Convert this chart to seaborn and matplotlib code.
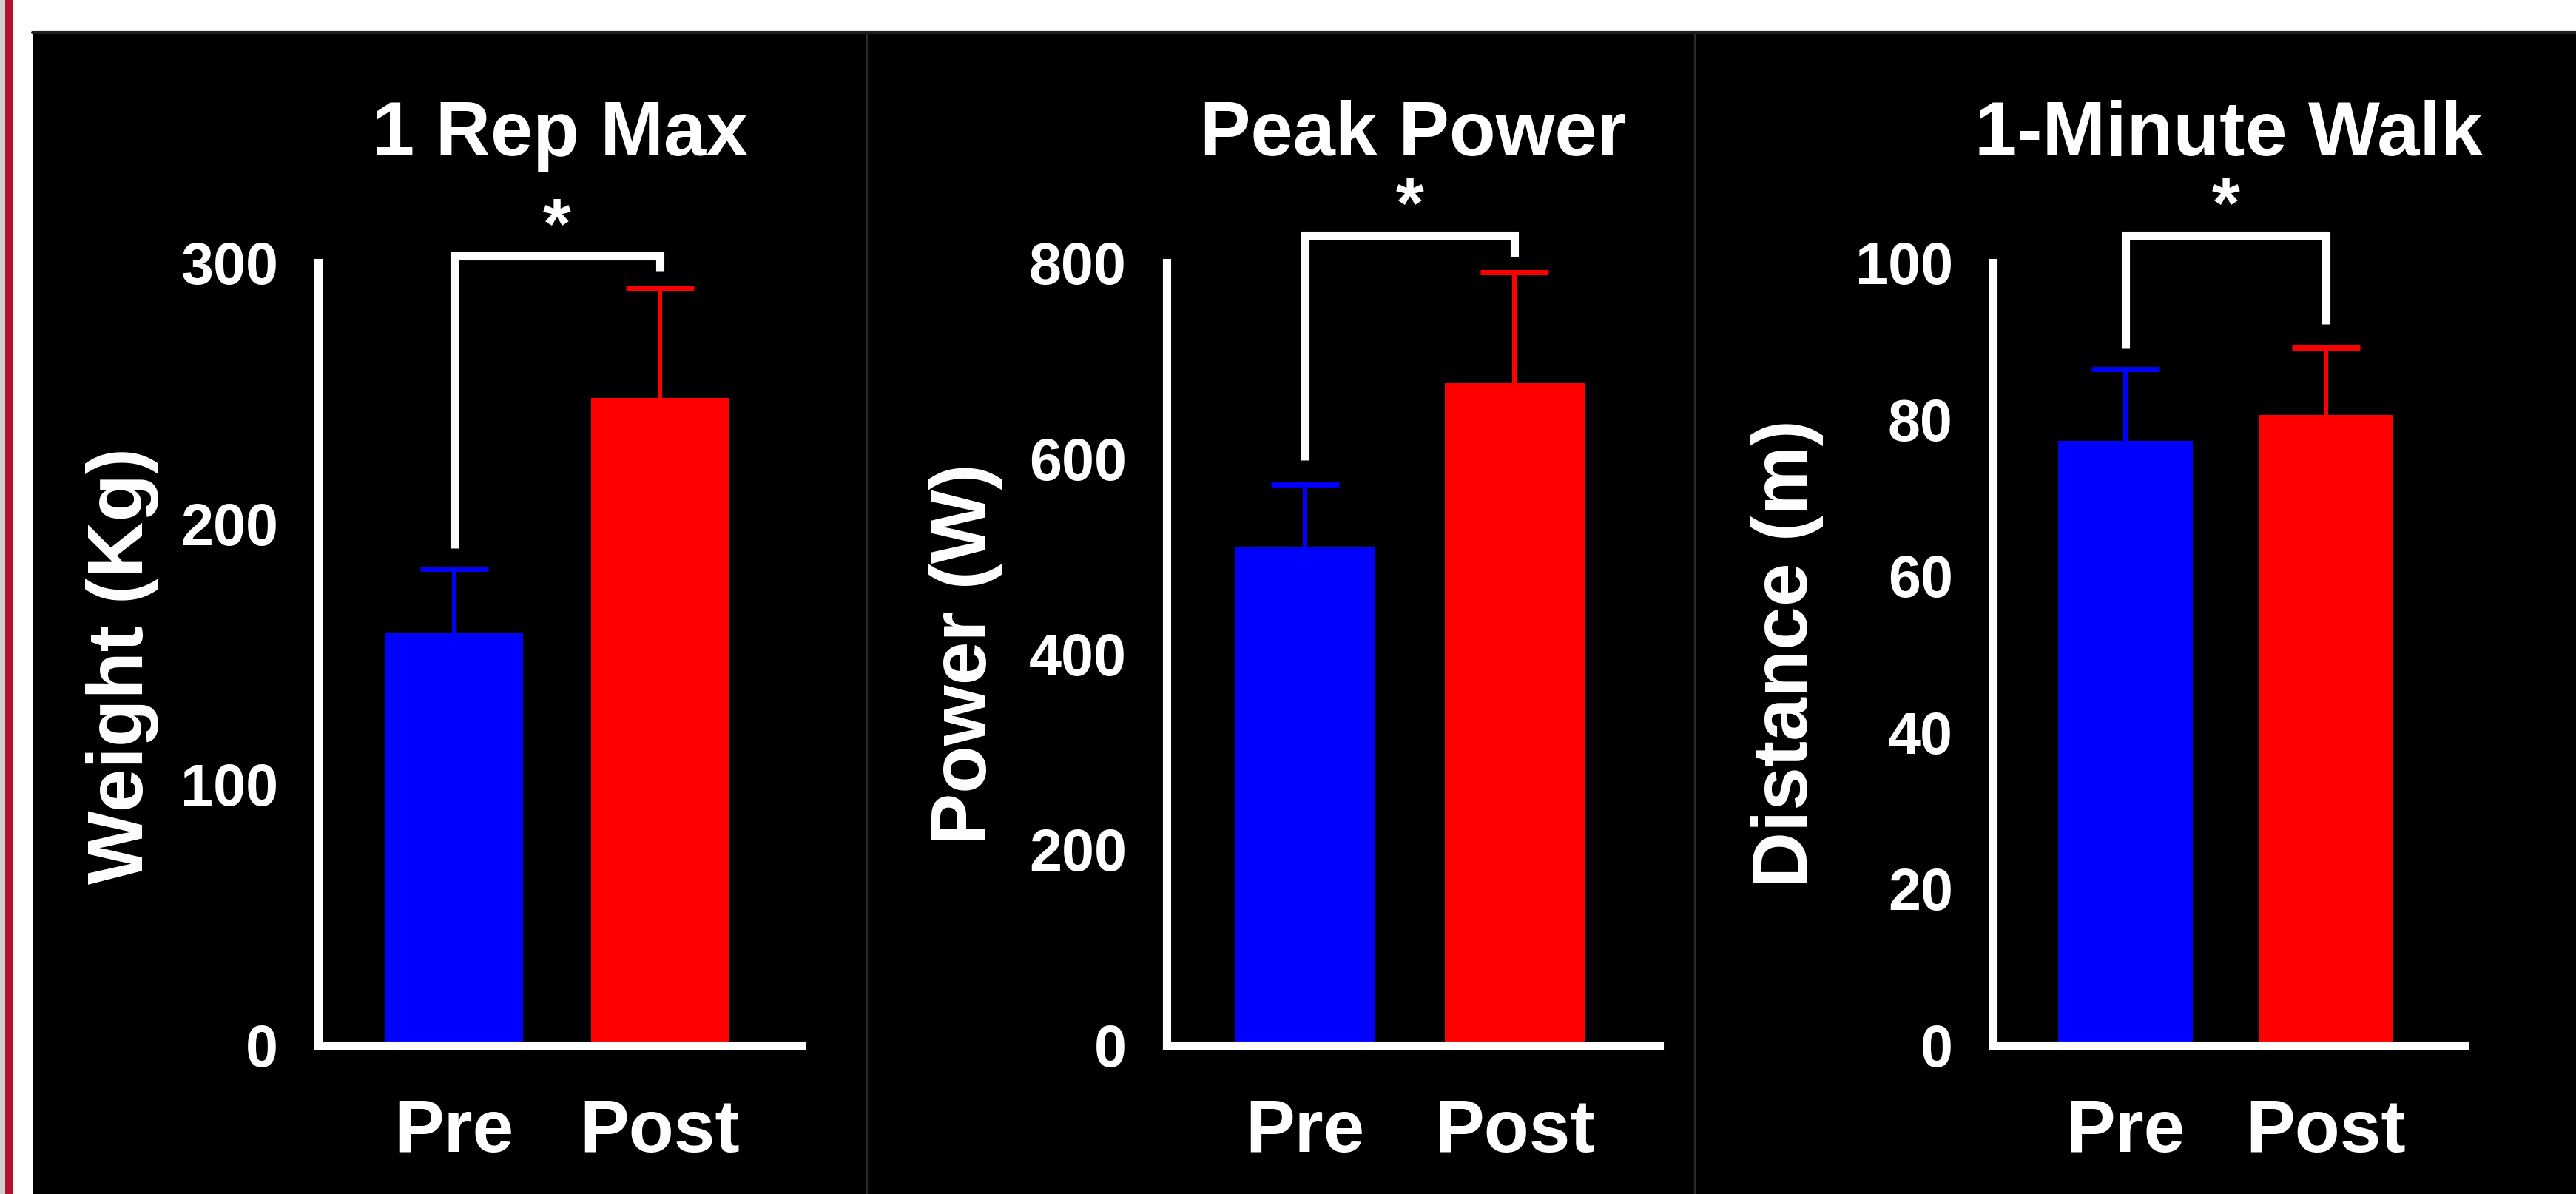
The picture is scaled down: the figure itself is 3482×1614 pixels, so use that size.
import matplotlib
matplotlib.use("Agg")
import matplotlib.pyplot as plt
import seaborn as sns
import pandas as pd
from matplotlib import font_manager
from matplotlib.patches import Rectangle
from matplotlib.lines import Line2D

# ---------------- data ----------------
categories = ["Pre", "Post"]
titles = ["1 Rep Max", "Peak Power", "1-Minute Walk"]
ylabels = ["Weight (Kg)", "Power (W)", "Distance (m)"]

rep_max_mean = [158, 248]
rep_max_sd = [24.5, 42]
peak_power_mean = [510, 677]
peak_power_sd = [63, 113]
walk_mean = [77.2, 80.5]
walk_sd = [9.2, 8.6]

yticks_rep = [0, 100, 200, 300]
yticks_power = [0, 200, 400, 600, 800]
yticks_walk = [0, 20, 40, 60, 80, 100]

# significance brackets: (left leg bottom, top, right leg bottom)
bracket_rep = [190.5, 302.5, 296.5]
bracket_power = [598, 828, 806]
bracket_walk = [89, 103.5, 92.2]
significance = ["*", "*", "*"]

bar_colors = ["#0000FF", "#FF0000"]

# ---------------- style ----------------
sns.set_style("white")
names = {f.name for f in font_manager.fontManager.ttflist}
hfam = ["Liberation Sans Narrow", "Liberation Sans", "DejaVu Sans"] if "Liberation Sans Narrow" in names \
    else ["Liberation Sans", "DejaVu Sans"]
vfam = ["Liberation Sans", "DejaVu Sans"]
plt.rcParams["font.family"] = hfam
plt.rcParams["font.weight"] = "bold"
plt.rcParams["axes.labelweight"] = "bold"

W, H = 3482, 1614
fig = plt.figure(figsize=(W / 100, H / 100), dpi=100)
fig.patch.set_facecolor("white")

# background decorations
fig.patches.append(Rectangle((44 / W, 0), 1 - 44 / W, 1 - 43 / H, transform=fig.transFigure,
                             facecolor="black", edgecolor="none", zorder=-10))
fig.patches.append(Rectangle((0, 0), 7 / W, 1, transform=fig.transFigure,
                             facecolor="#cfcfcf", edgecolor="none", zorder=-10))
fig.patches.append(Rectangle((7 / W, 0), 11 / W, 1, transform=fig.transFigure,
                             facecolor="#b0132f", edgecolor="none", zorder=-10))
for sx in (1171, 2291):
    fig.lines.append(Line2D([sx / W, sx / W], [0, 1 - 44 / H], transform=fig.transFigure,
                            color="#2a2a2a", lw=2.2, zorder=-9))
fig.lines.append(Line2D([44 / W, 1], [1 - 44 / H, 1 - 44 / H], transform=fig.transFigure,
                        color="#1e1e1e", lw=3, zorder=-9))

bottom = 1 - 1413 / H
top = 1 - 355 / H
axes_px = [(430, 1084), (1577, 2243), (2694, 3331)]
label_right_px = [215, 1355, 2465]
label_ycenter = [0.485, 0.5, 0.5]

panels = [
    (rep_max_mean, rep_max_sd, yticks_rep, bracket_rep),
    (peak_power_mean, peak_power_sd, yticks_power, bracket_power),
    (walk_mean, walk_sd, yticks_walk, bracket_walk),
]

LW = 8
for i, (means, sds, yt, br) in enumerate(panels):
    l, r = axes_px[i]
    ax = fig.add_axes([l / W, bottom, (r - l) / W, top - bottom])
    ax.set_facecolor("none")
    df = pd.DataFrame({"phase": categories, "value": means})
    sns.barplot(data=df, x="phase", y="value", hue="phase",
                palette=dict(zip(categories, bar_colors)), width=0.67, saturation=1,
                errorbar=None, legend=False, ax=ax, linewidth=0, zorder=2)
    for j in range(len(categories)):
        _, caps, _ = ax.errorbar(j, means[j], yerr=[[0], [sds[j]]], fmt="none",
                                 ecolor=bar_colors[j], elinewidth=4.3, capsize=33,
                                 capthick=5, zorder=1)
        # one-sided error bar: hide the cap at the bar top
        caps[0].set_visible(False)
    ax.set_ylim(yt[0], yt[-1])
    ax.set_yticks(yt)
    ax.set_xlim(-0.66, 1.69)
    for s in ("top", "right"):
        ax.spines[s].set_visible(False)
    for s in ("left", "bottom"):
        ax.spines[s].set_color("white")
        ax.spines[s].set_linewidth(LW)
    ax.tick_params(axis="y", colors="white", width=LW, length=30, direction="out",
                   labelsize=57, pad=9)
    ax.tick_params(axis="x", colors="white", width=LW, length=29, direction="out",
                   labelsize=72, pad=22)
    for lbl in ax.get_xticklabels() + ax.get_yticklabels():
        lbl.set_fontweight("bold")
    ax.set_xlabel("")
    ax.set_ylabel(ylabels[i], fontsize=76, color="white", fontweight="bold", family=vfam)
    ax.yaxis.set_label_coords((label_right_px[i] - l) / (r - l), label_ycenter[i])

    # significance bracket
    ax.plot([0, 0, 1, 1], [br[0], br[1], br[1], br[2]], color="white", lw=LW,
            clip_on=False, solid_joinstyle="miter", solid_capstyle="butt", zorder=3)
    ax.annotate(significance[i], xy=(0.5, br[1]), xytext=(0, 8), textcoords="offset points",
                ha="center", va="baseline", fontsize=70, color="white", fontweight="bold",
                annotation_clip=False)
    ax.text(0.5, 1.137, titles[i], transform=ax.transAxes, ha="center", va="baseline",
            fontsize=74, color="white", fontweight="bold")

fig.savefig("out.png", dpi=100, facecolor=fig.get_facecolor())
